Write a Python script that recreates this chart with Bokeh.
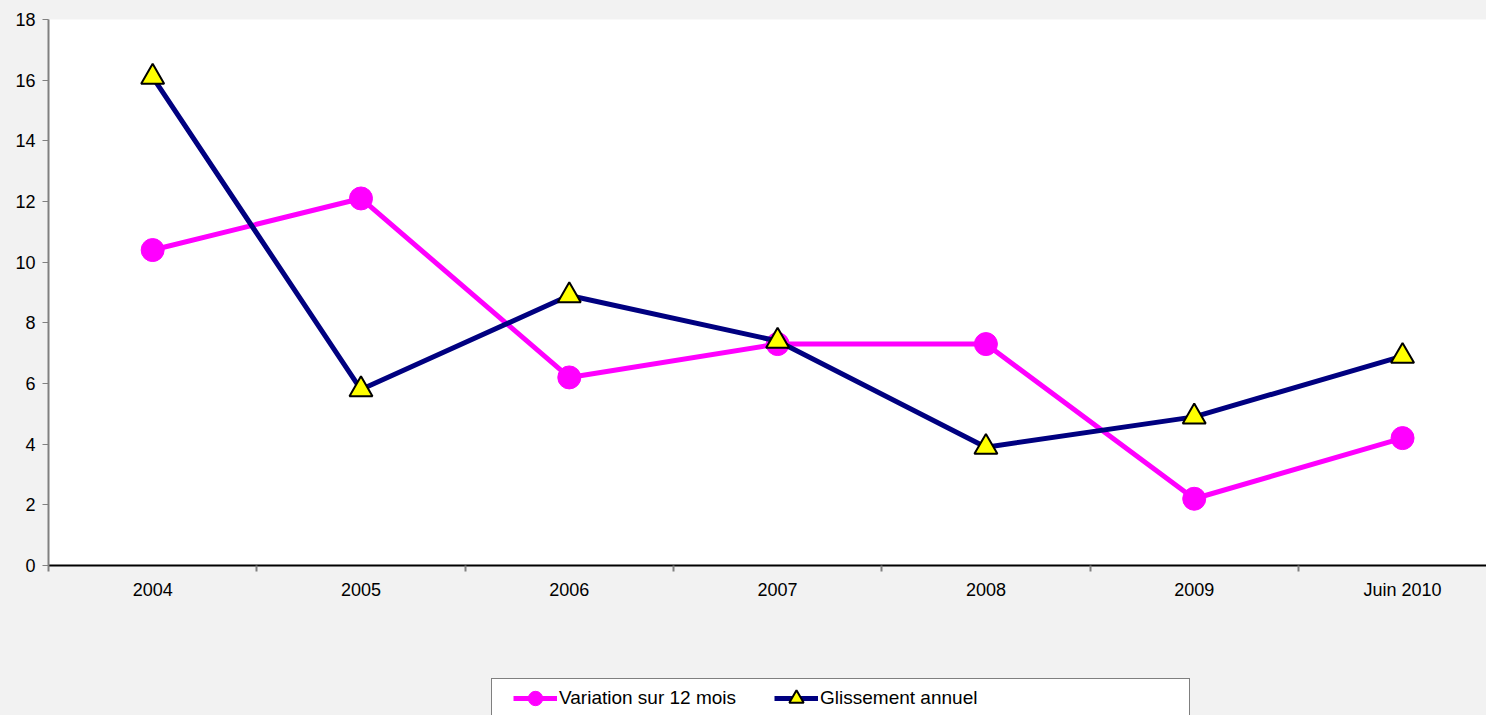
from bokeh.plotting import figure
from bokeh.layouts import column
from bokeh.models import Range1d, FixedTicker, Legend, LegendItem
from bokeh.embed import file_html
from bokeh.resources import INLINE

categories = ["2004", "2005", "2006", "2007", "2008", "2009", "Juin 2010"]
variation_12_mois = [10.4, 12.1, 6.2, 7.3, 7.3, 2.2, 4.2]
glissement_annuel = [16.1, 5.8, 8.9, 7.4, 3.9, 4.9, 6.9]
y_ticks = [0, 2, 4, 6, 8, 10, 12, 14, 16, 18]
series_names = ["Variation sur 12 mois", "Glissement annuel"]

xs = list(range(len(categories)))
FONT = "Liberation Sans"
BG = "#f2f2f2"
PINK = "#ff00ff"
NAVY = "#000080"

# ---------------- main chart ----------------
p = figure(width=1486, height=668, output_backend="svg", toolbar_location=None,
           x_range=Range1d(-0.5, 6.403), y_range=Range1d(0, 18),
           min_border_left=48, min_border_top=19, min_border_bottom=103, min_border_right=0)
p.background_fill_color = "white"
p.border_fill_color = BG
p.outline_line_color = None
p.xgrid.grid_line_color = None
p.ygrid.grid_line_color = None

p.xaxis.ticker = FixedTicker(ticks=xs, minor_ticks=[i + 0.5 for i in range(-1, len(categories))])
p.xaxis.major_label_overrides = {i: c for i, c in enumerate(categories)}
p.xaxis.major_tick_out = 0
p.xaxis.major_tick_in = 0
p.xaxis.minor_tick_out = 6
p.xaxis.minor_tick_in = 0
p.xaxis.minor_tick_line_color = "#808080"
p.xaxis.minor_tick_line_width = 2
p.xaxis.axis_line_color = "black"
p.xaxis.axis_line_width = 2
p.xaxis.major_label_standoff = 8
p.xaxis.major_label_text_font = FONT
p.xaxis.major_label_text_font_size = "18px"
p.xaxis.major_label_text_color = "black"

p.yaxis.ticker = FixedTicker(ticks=y_ticks, minor_ticks=[])
p.yaxis.major_tick_out = 6
p.yaxis.major_tick_in = 0
p.yaxis.major_tick_line_color = "#808080"
p.yaxis.major_tick_line_width = 1
p.yaxis.axis_line_color = "#808080"
p.yaxis.axis_line_width = 2
p.yaxis.major_label_standoff = 7
p.yaxis.major_label_text_font = FONT
p.yaxis.major_label_text_font_size = "18px"
p.yaxis.major_label_text_color = "black"

p.line(xs, variation_12_mois, line_color=PINK, line_width=5)
p.scatter(xs, variation_12_mois, marker="circle", size=23, fill_color=PINK, line_color=PINK)
p.line(xs, glissement_annuel, line_color=NAVY, line_width=5)
p.scatter(xs, glissement_annuel, marker="triangle", size=23, fill_color="#ffff00",
          line_color="black", line_width=2)

# ---------------- legend strip (series keys kept outside its visible range) ----------------
q = figure(width=1486, height=47, output_backend="svg", toolbar_location=None,
           x_range=Range1d(100, 101), y_range=Range1d(100, 101),
           x_axis_location=None, y_axis_location=None,
           min_border_left=48, min_border_right=0, min_border_top=0, min_border_bottom=0)
q.grid.visible = False
q.outline_line_color = None
q.background_fill_color = BG
q.border_fill_color = BG

box_key = q.line(xs, variation_12_mois, line_alpha=0)
k1l = q.line(xs, variation_12_mois, line_color=PINK, line_width=5)
k1s = q.scatter(xs, variation_12_mois, marker="circle", fill_color=PINK, line_color=PINK)
k2l = q.line(xs, glissement_annuel, line_color=NAVY, line_width=5)
k2s = q.scatter(xs, glissement_annuel, marker="triangle", fill_color="#ffff00",
                line_color="black", line_width=2)

box = Legend(items=[LegendItem(label="", renderers=[box_key])],
             location=(443, -3), glyph_width=697, glyph_height=38, label_width=0,
             label_standoff=0, padding=0, margin=0, spacing=0,
             border_line_color="black", border_line_width=1,
             background_fill_color="white", background_fill_alpha=1)
q.add_layout(box, "center")

legend = Legend(items=[LegendItem(label=series_names[0], renderers=[k1l, k1s]),
                       LegendItem(label=series_names[1], renderers=[k2l, k2s])],
                orientation="horizontal", location=(465, -1),
                label_text_font=FONT, label_text_font_size="19px", label_text_color="black",
                glyph_width=44, glyph_height=36, label_standoff=2, spacing=38,
                padding=0, margin=0, border_line_color=None, background_fill_alpha=0)
q.add_layout(legend, "center")

layout = column(p, q, spacing=0)
html = file_html(layout, INLINE)
html = html.replace("</head>", "<style>html, body { background: #f2f2f2; }</style></head>", 1)
open("out.html", "w").write(html)
